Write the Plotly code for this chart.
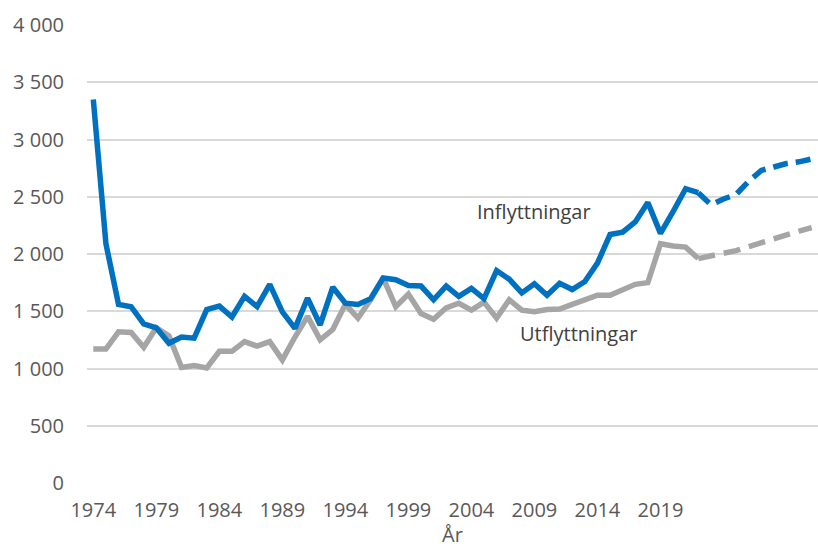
import plotly.graph_objects as go

years = list(range(1974, 2023))
infl = [3350, 2090, 1560, 1540, 1390, 1355, 1220, 1275, 1265, 1515,
        1545, 1450, 1630, 1540, 1735, 1495, 1350, 1615, 1380, 1710,
        1570, 1560, 1610, 1790, 1775, 1725, 1720, 1600, 1720, 1630,
        1700, 1610, 1855, 1780, 1660, 1740, 1640, 1745, 1690, 1760,
        1920, 2170, 2190, 2280, 2450, 2180, 2370, 2570, 2535]
utfl = [1170, 1170, 1320, 1315, 1185, 1355, 1285, 1010, 1025, 1005,
        1150, 1150, 1235, 1195, 1235, 1075, 1275, 1455, 1250, 1340,
        1560, 1440, 1600, 1790, 1540, 1650, 1480, 1430, 1530, 1570,
        1510, 1580, 1440, 1600, 1510, 1495, 1515, 1520, 1560, 1600,
        1640, 1640, 1685, 1735, 1750, 2090, 2070, 2060, 1960]

prog_years = list(range(2022, 2032))
infl_prog = [2535, 2430, 2480, 2520, 2635, 2730, 2760, 2790, 2805, 2830]
utfl_prog = [1960, 1980, 2005, 2030, 2065, 2100, 2140, 2170, 2200, 2230]

tick_years = [1974, 1979, 1984, 1989, 1994, 1999, 2004, 2009, 2014, 2019]
y_ticks = [0, 500, 1000, 1500, 2000, 2500, 3000, 3500, 4000]

BLUE = "#0070C0"
GRAY = "#A5A5A5"
FONT = "Open Sans"

fig = go.Figure()
fig.add_trace(go.Scatter(x=years, y=utfl, mode="lines",
                         line=dict(color=GRAY, width=5.5), name="Utflyttningar"))
fig.add_trace(go.Scatter(x=prog_years, y=utfl_prog, mode="lines",
                         line=dict(color=GRAY, width=5.5, dash="17px,9px"),
                         name="Utflyttningar prognos"))
fig.add_trace(go.Scatter(x=years, y=infl, mode="lines",
                         line=dict(color=BLUE, width=5.5), name="Inflyttningar"))
fig.add_trace(go.Scatter(x=prog_years, y=infl_prog, mode="lines",
                         line=dict(color=BLUE, width=5.5, dash="15px,8px"),
                         name="Inflyttningar prognos"))

fig.add_annotation(x=2009.0, y=2370, text="Inflyttningar", showarrow=False,
                   font=dict(family=FONT, size=20, color="#404040"))
fig.add_annotation(x=2012.5, y=1310, text="Utflyttningar", showarrow=False,
                   font=dict(family=FONT, size=20, color="#404040"))
fig.add_annotation(x=0.5, xref="paper", y=-0.112, yref="paper", yanchor="middle",
                   text="År", showarrow=False,
                   font=dict(family=FONT, size=20, color="#595959"))

fig.update_layout(
    width=818, height=547,
    margin=dict(l=87, r=0, t=25, b=64),
    plot_bgcolor="white", paper_bgcolor="white",
    showlegend=False,
    separators=", ",
    font=dict(family=FONT, size=20, color="#595959"),
)
fig.update_xaxes(range=[1973.5, 2031.5], tickvals=tick_years,
                 ticktext=[str(t) for t in tick_years],
                 showgrid=False, zeroline=False, showline=False,
                 ticks="", ticklabelstandoff=13,
                 tickfont=dict(family=FONT, size=20, color="#595959"))
fig.update_yaxes(range=[0, 4000], tickvals=y_ticks, tickformat=",d",
                 showgrid=True, gridcolor="#D9D9D9", gridwidth=1.5,
                 zeroline=False, showline=False, ticks="",
                 ticklabelstandoff=22,
                 tickfont=dict(family=FONT, size=20, color="#595959"))

fig.write_html("out.html", config={"displayModeBar": False},
               post_script="document.body.style.margin='0';document.body.style.padding='0';")
